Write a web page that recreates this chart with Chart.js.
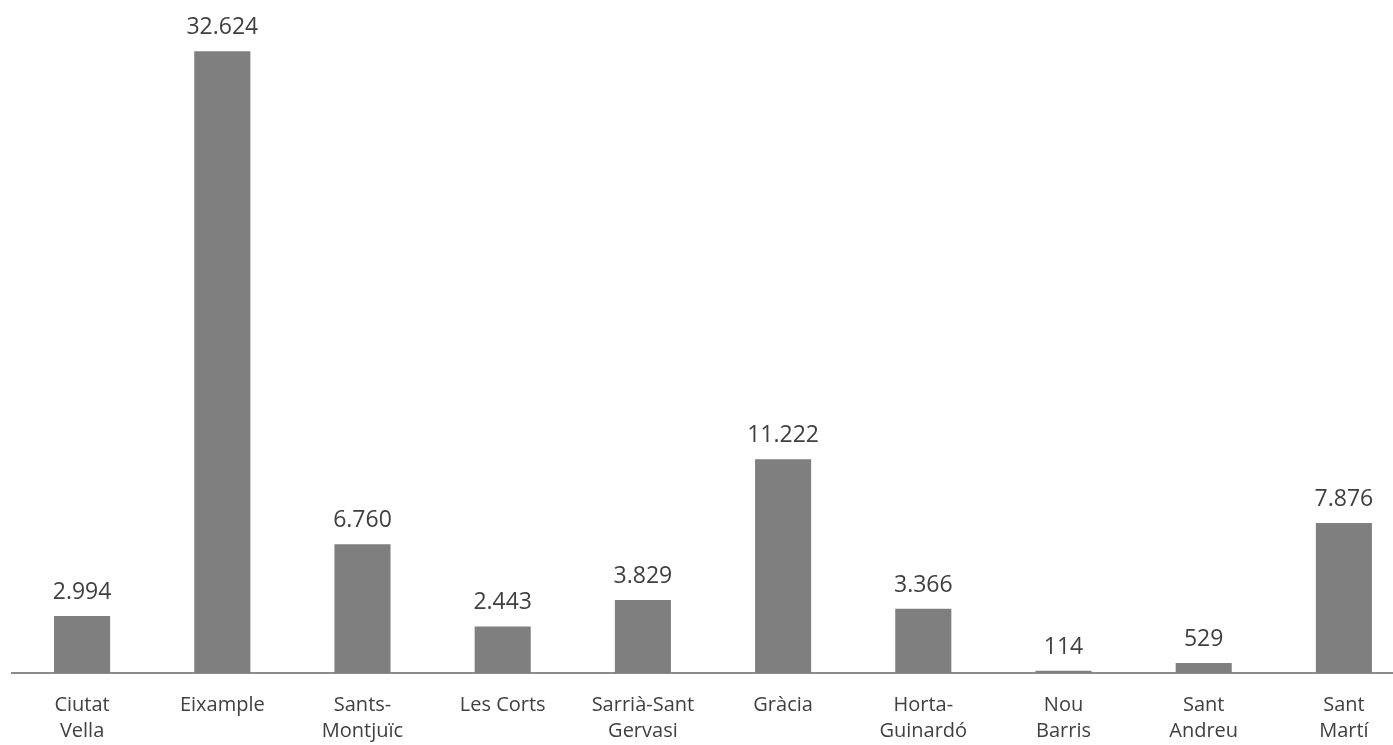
<!DOCTYPE html>
<html>
<head>
<meta charset="utf-8">
<script src="https://cdn.jsdelivr.net/npm/chart.js@4/dist/chart.umd.min.js"></script>
<style>
  html, body { margin: 0; padding: 0; background: #ffffff; overflow: hidden; }
  #wrap { position: absolute; left: 0; top: 0; width: 1414px; height: 745px; }
</style>
</head>
<body>
<div id="wrap"><canvas id="c"></canvas></div>
<script>
const categories = [
  ['Ciutat', 'Vella'],
  ['Eixample'],
  ['Sants-', 'Montjuïc'],
  ['Les Corts'],
  ['Sarrià-Sant', 'Gervasi'],
  ['Gràcia'],
  ['Horta-', 'Guinardó'],
  ['Nou', 'Barris'],
  ['Sant', 'Andreu'],
  ['Sant', 'Martí']
];
const values = [2994, 32624, 6760, 2443, 3829, 11222, 3366, 114, 529, 7876];

function fmt(v) {
  return String(Math.round(v)).replace(/\B(?=(\d{3})+(?!\d))/g, '.');
}

const valueLabels = {
  id: 'valueLabels',
  afterDatasetsDraw(chart) {
    const ctx = chart.ctx;
    const meta = chart.getDatasetMeta(0);
    ctx.save();
    ctx.fillStyle = '#404040';
    ctx.font = '23px "Open Sans"';
    ctx.textAlign = 'center';
    ctx.textBaseline = 'alphabetic';
    meta.data.forEach((el, i) => {
      ctx.fillText(fmt(values[i]), el.x, el.y - 17);
    });
    ctx.restore();
  }
};

new Chart(document.getElementById('c'), {
  type: 'bar',
  data: {
    labels: categories,
    datasets: [{
      data: values,
      backgroundColor: '#7f7f7f',
      borderWidth: 0,
      categoryPercentage: 1.0,
      barPercentage: 0.4
    }]
  },
  options: {
    responsive: true,
    maintainAspectRatio: false,
    animation: false,
    layout: { padding: { left: 12, right: 0, top: 6, bottom: 2 } },
    plugins: { legend: { display: false }, tooltip: { enabled: false } },
    scales: {
      y: { display: false, min: 0, max: 35000 },
      x: {
        grid: { display: false, drawTicks: false },
        border: { display: true, color: '#8c8c8c', width: 2 },
        afterFit: (scale) => { scale.height = 70; },
        ticks: {
          color: '#404040',
          font: { family: '"Open Sans"', size: 20, lineHeight: 1.3 },
          padding: 19,
          maxRotation: 0,
          autoSkip: false
        }
      }
    }
  },
  plugins: [valueLabels]
});
</script>
</body>
</html>
